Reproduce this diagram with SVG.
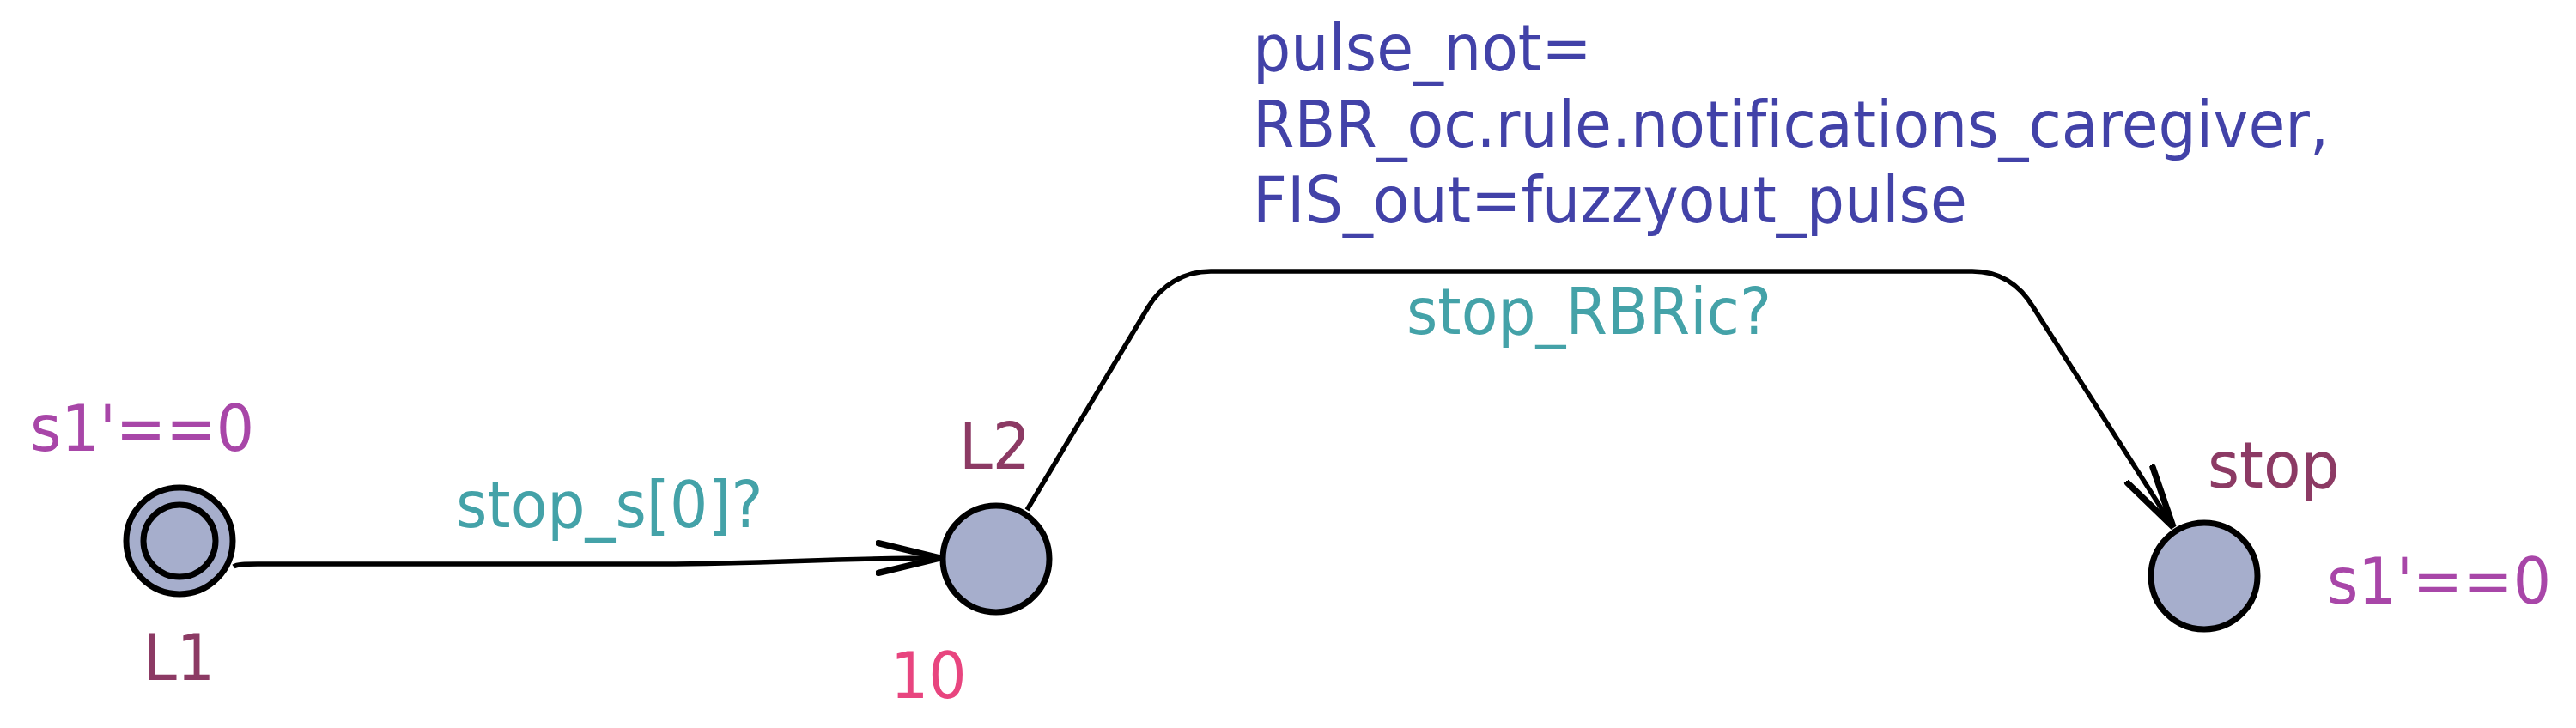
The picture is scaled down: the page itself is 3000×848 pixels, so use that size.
<svg xmlns="http://www.w3.org/2000/svg" width="3000" height="848" viewBox="0 0 3000 848">
<style>
text{font-family:"DejaVu Sans","Liberation Sans",sans-serif;font-size:75px;font-variant-ligatures:none}
.node{fill:#A6AECC;stroke:#000;stroke-width:7}
.edge{fill:none;stroke:#000;stroke-width:5.5}
.name{fill:#8C3A64}
.inv{fill:#A846A8}
.sync{fill:#44A2A8}
.upd{fill:#4242A8}
.rate{fill:#E8457F}
</style>
<defs>
<marker id="arr" markerUnits="userSpaceOnUse" markerWidth="80" markerHeight="60" refX="56" refY="15" orient="auto" viewBox="0 0 60 30">
<path d="M2,2 L56,15 L2,28" fill="none" stroke="#000" stroke-width="5.5" stroke-linecap="round"/>
</marker>
</defs>
<rect width="3000" height="848" fill="#fff"/>
<g id="connectors">
<path class="edge" d="M272,660 C276,657 285,657 300,657 L770,657 C900,657 960,650 1095,650" marker-end="url(#arr)"/>
<text class="sync" transform="translate(531,614) scale(0.93,1)">stop_s[0]?</text>
<path class="edge" d="M1196,594 L1337,358 C1352,333 1378,316 1410,316 L2297,316 C2330,316 2353,333 2368,358 L2531,614" marker-end="url(#arr)"/>
<text class="upd" transform="translate(1459,82) scale(0.93,1)">pulse_not=</text>
<text class="upd" transform="translate(1459,171) scale(0.93,1)">RBR_oc.rule.notifications_caregiver,</text>
<text class="upd" transform="translate(1459,259) scale(0.93,1)">FIS_out=fuzzyout_pulse</text>
<text class="sync" transform="translate(1638,389) scale(0.93,1)">stop_RBRic?</text>
</g>
<g id="L1">
<circle class="node" cx="209" cy="630" r="62"/>
<circle class="node" cx="209" cy="630" r="42"/>
<text class="inv" transform="translate(35,525) scale(0.93,1)">s1'==0</text>
<text class="name" transform="translate(167,792) scale(0.93,1)">L1</text>
</g>
<g id="L2">
<circle class="node" cx="1160" cy="651" r="62"/>
<text class="name" transform="translate(1117,546) scale(0.93,1)">L2</text>
<text class="rate" transform="translate(1037,813) scale(0.93,1)">10</text>
</g>
<g id="stop">
<circle class="node" cx="2567" cy="671" r="62"/>
<text class="name" transform="translate(2571,568) scale(0.95,1)">stop</text>
<text class="inv" transform="translate(2710,703) scale(0.93,1)">s1'==0</text>
</g>
</svg>
